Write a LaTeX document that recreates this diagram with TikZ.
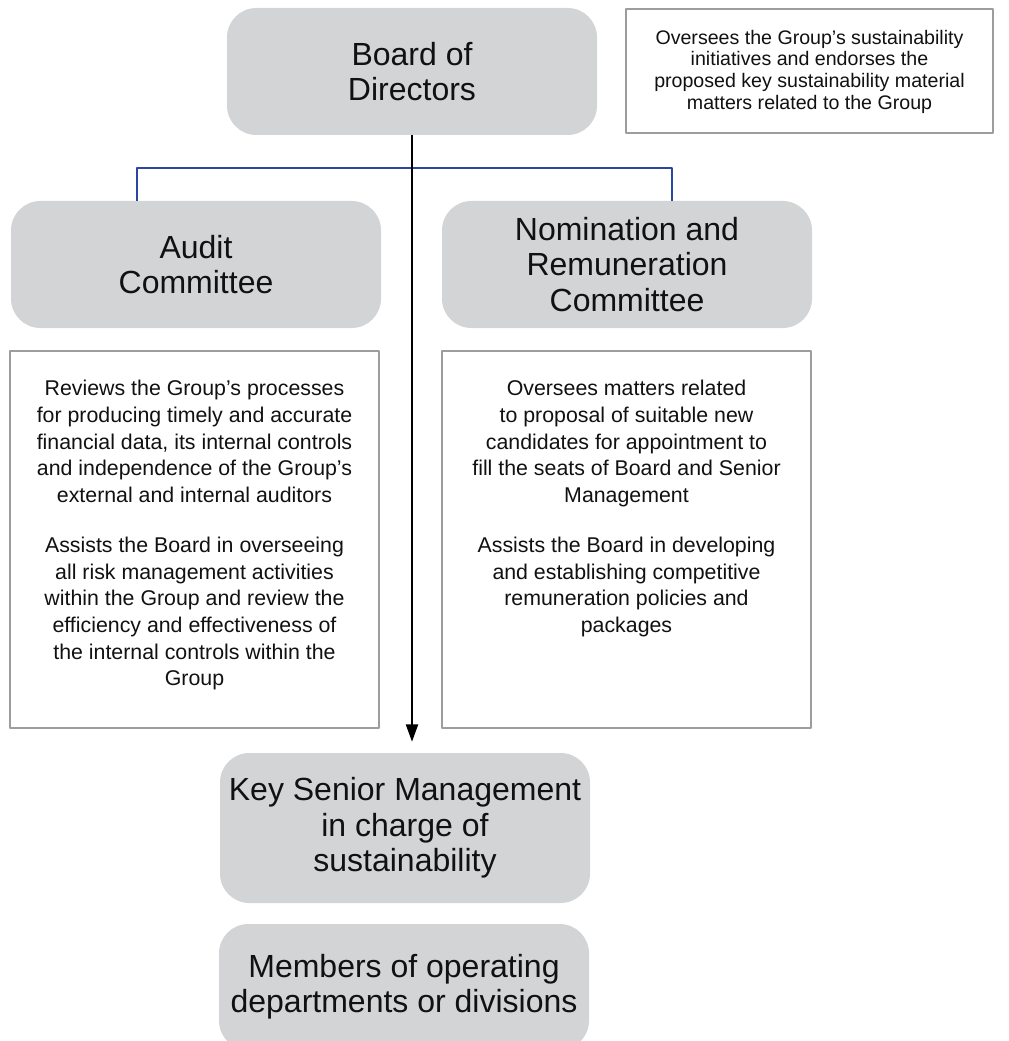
\documentclass[tikz,border=0pt]{standalone}
\usepackage{fontspec}
\setmainfont{Liberation Sans}
\usetikzlibrary{arrows.meta,positioning}
\definecolor{cbox}{HTML}{D3D4D6}
\definecolor{cframe}{HTML}{9D9D9F}
\definecolor{cbus}{HTML}{2B45A3}
\definecolor{ctext}{HTML}{111111}
\newcommand{\bigtxt}{\fontsize{24}{26.5}\selectfont}
\newcommand{\desctxt}{\fontsize{16}{20}\selectfont}
\newcommand{\notetxt}{\fontsize{14.7}{16.3}\selectfont}

\begin{document}
\begin{tikzpicture}[x=0.75pt, y=-0.75pt, line join=round,
  unit/.style={fill=cbox, rounded corners=22pt, inner sep=0pt,
               minimum width=277.5pt, minimum height=95.25pt,
               align=center, text=ctext, font=\bigtxt},
  framebox/.style={draw=cframe, line width=1.5pt, fill=white},
  descbox/.style={framebox, minimum width=276.75pt, minimum height=282.75pt},
  desctext/.style={align=center, inner sep=0pt, text=ctext, font=\desctxt},
  bus/.style={cbus, line width=1pt},
  flow/.style={-{Triangle[length=13pt,width=9pt]}, line width=1.5pt,
               shorten >=8.25pt}]

\useasboundingbox (0,0) rectangle (1008,1041);

% =================== board and its remit ===================
\node[unit] (board) at (412,71.5) {Board of\\Directors};
\node[framebox, minimum width=275.25pt, minimum height=93pt,
      align=center, text=ctext, font=\notetxt, text depth=2pt]
  (note) at (809.5,71)
  {Oversees the Group’s sustainability\\
   initiatives and endorses the\\
   proposed key sustainability material\\
   matters related to the Group};

% =================== committees ===================
\node[unit] (audit)  at (196,264.5) {Audit\\Committee};
\node[unit] (nomrem) at (627,264.5)
  {Nomination and\\Remuneration\\Committee};

% bus joining the two committees
\coordinate (bus) at (404,168);
\draw[bus] ([xshift=-44.25pt]audit.north) |- (bus)
           -| ([xshift=33.75pt]nomrem.north);

% committee duties
\node[descbox] (auditbox)  at (194.5,539.5) {};
\node[descbox] (nomrembox) at (626.5,539.5) {};
\node[desctext, below=22.5pt of auditbox.north] (audittext)
  {Reviews the Group’s processes\\
   for producing timely and accurate\\
   financial data, its internal controls\\
   and independence of the Group’s\\
   external and internal auditors\\[17.5pt]
   Assists the Board in overseeing\\
   all risk management activities\\
   within the Group and review the\\
   efficiency and effectiveness of\\
   the internal controls within the\\
   Group};
\node[desctext, below=22.5pt of nomrembox.north] (nomremtext)
  {Oversees matters related\\
   to proposal of suitable new\\
   candidates for appointment to\\
   fill the seats of Board and Senior\\
   Management\\[17.5pt]
   Assists the Board in developing\\
   and establishing competitive\\
   remuneration policies and\\
   packages};

% =================== management levels ===================
\node[unit, minimum height=112.5pt] (ksm) at (405,828)
  {Key Senior Management\\in charge of\\sustainability};
\node[unit, minimum height=94.5pt] (members) at (404,987)
  {Members of operating\\departments or divisions};

% reporting line, board down to management
\draw[flow] (board.south) -- (board.south |- ksm.north);

\end{tikzpicture}
\end{document}
